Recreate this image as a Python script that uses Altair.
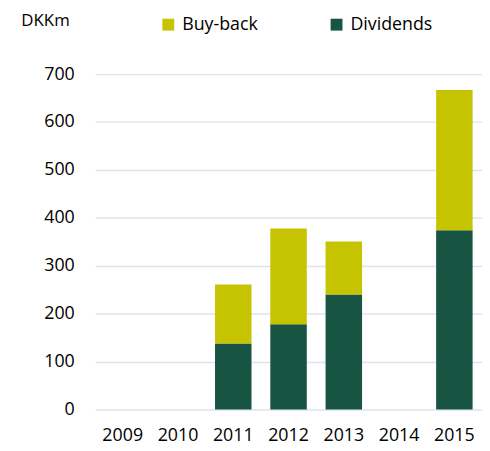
import altair as alt
import pandas as pd

years = ["2009", "2010", "2011", "2012", "2013", "2014", "2015"]
dividends = [0, 0, 138, 178, 240, 0, 374]
buyback = [0, 0, 123, 200, 111, 0, 293]
series = ["Buy-back", "Dividends"]
colors = ["#c6c400", "#175441"]

rows = []
for y, d, b in zip(years, dividends, buyback):
    rows.append({"year": y, "series": "Dividends", "value": d, "ord": 0})
    rows.append({"year": y, "series": "Buy-back", "value": b, "ord": 1})
df = pd.DataFrame(rows)

FONT = "Open Sans"
FS = 18

chart = alt.Chart(df).mark_bar().encode(
    x=alt.X("year:N", sort=years, title=None,
            scale=alt.Scale(paddingInner=0.34, paddingOuter=0.17),
            axis=alt.Axis(labelAngle=0, ticks=False, domain=False, grid=False,
                          labelPadding=17, labelFontSize=FS, labelFont=FONT,
                          labelColor="#000000")),
    y=alt.Y("value:Q", stack="zero", title="DKKm",
            scale=alt.Scale(domain=[0, 700], nice=False),
            axis=alt.Axis(values=[0, 100, 200, 300, 400, 500, 600, 700],
                          ticks=False, domain=False, grid=True,
                          gridColor="#dae4f0", gridWidth=1.5,
                          labelPadding=21, labelFontSize=FS, labelFont=FONT,
                          labelColor="#000000",
                          titleAngle=0, titleX=-75, titleY=-49.5,
                          titleAlign="left", titleBaseline="alphabetic",
                          titleFont=FONT, titleFontSize=17,
                          titleFontWeight="normal", titleColor="#000000")),
    color=alt.Color("series:N", scale=alt.Scale(domain=series, range=colors),
                    legend=alt.Legend(title=None, orient="none", direction="horizontal",
                                      legendX=65, legendY=-59,
                                      symbolType="square", symbolSize=144,
                                      symbolStrokeWidth=0, labelOffset=5,
                                      columnPadding=70,
                                      labelFont=FONT, labelFontSize=FS,
                                      labelColor="#000000")),
    order=alt.Order("ord:Q"),
).properties(
    width=391, height=339,
    autosize=alt.AutoSizeParams(type="none"),
    padding={"left": 88, "top": 64.5, "right": 0, "bottom": 38},
).configure_view(stroke=None)

chart.save("out.html", embed_options={"renderer": "svg", "actions": False})
